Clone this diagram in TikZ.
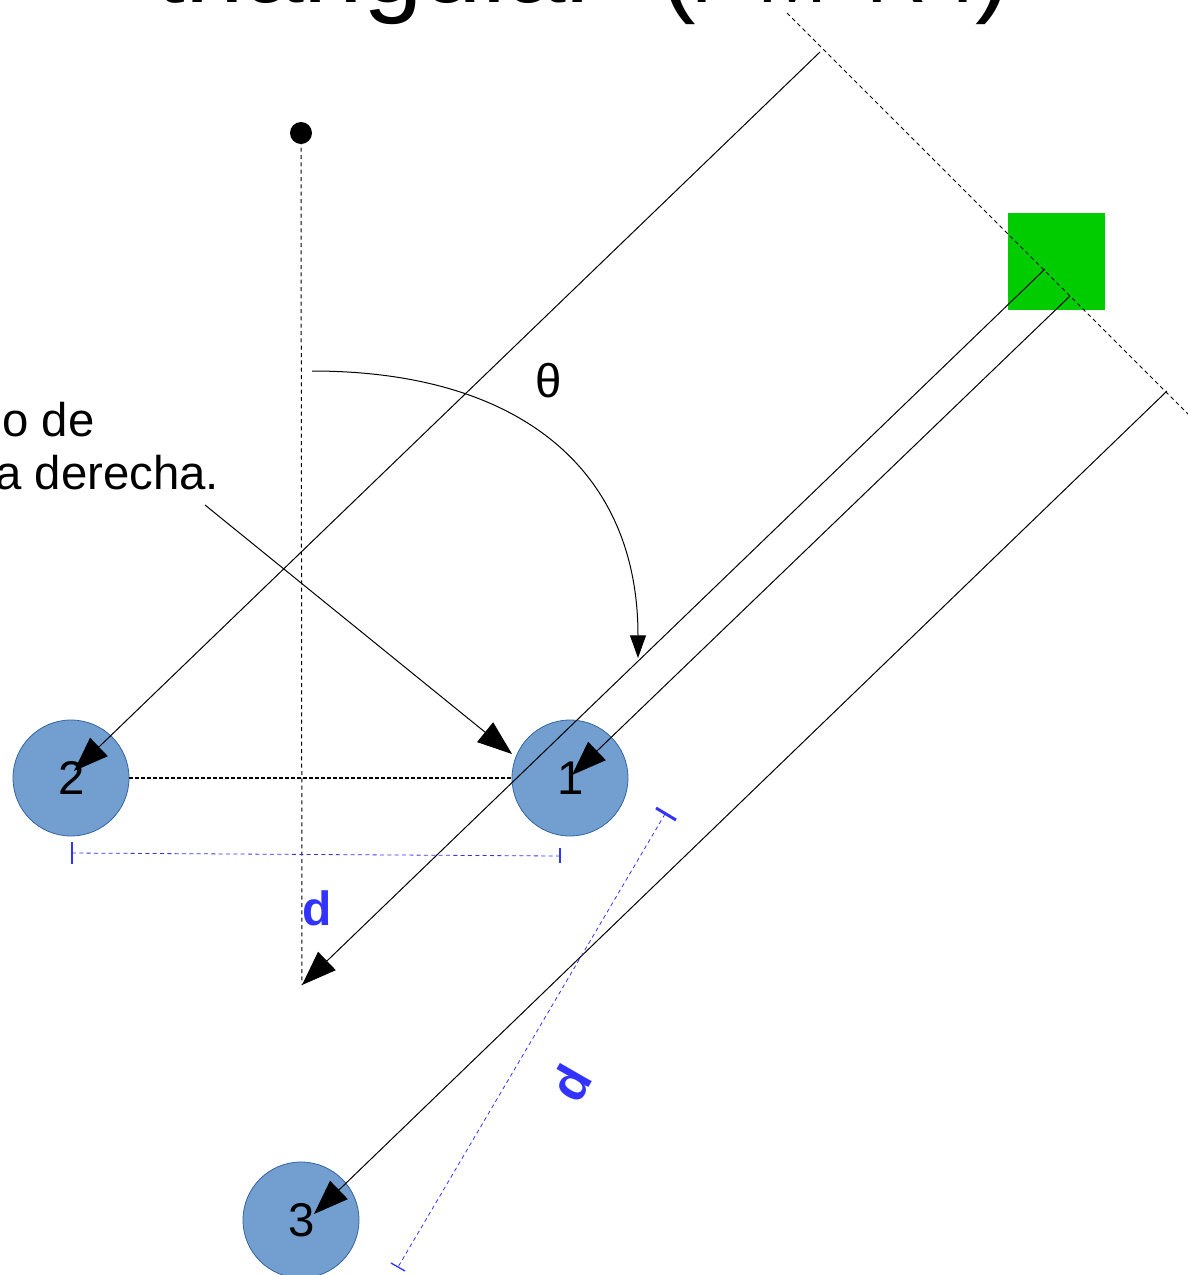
\documentclass[tikz,border=0pt]{standalone}
\usepackage{fontspec}
\setmainfont{Liberation Sans}
\usetikzlibrary{arrows.meta}
\definecolor{ballfill}{HTML}{729FCF}
\definecolor{ballline}{HTML}{3465A4}
\definecolor{dimblue}{HTML}{3333FF}
\definecolor{srcgreen}{HTML}{00CC00}
\tikzset{
  x=0.75pt,y=-0.75pt,
  thinline/.style={draw=black,line width=0.75pt},
  bighead/.style={-{Triangle[length=26pt,width=19pt]}},
  smallhead/.style={-{Triangle[length=17pt,width=12pt]}},
  refdash/.style={draw=black,line width=0.75pt,dash pattern=on 3pt off 2.5pt},
  refdashb/.style={draw=black,line width=1.1pt,dash pattern=on 3pt off 1.5pt},
  dimdash/.style={draw=dimblue,line width=0.6pt,dash pattern=on 3pt off 2.5pt},
  tickthick/.style={draw=dimblue,line width=2.2pt},
  tickthin/.style={draw=dimblue,line width=1pt},
  ball/.style={circle,draw=ballline,fill=ballfill,line width=0.6pt,minimum size=87pt,inner sep=0pt,font=\fontsize{35.5}{35.5}\selectfont},
  lbl/.style={inner sep=0pt,anchor=base west,font=\fontsize{35.5}{35.5}\selectfont},
  dimlbl/.style={inner sep=0pt,text=dimblue,font=\fontsize{36}{36}\selectfont\bfseries},
  dimlblr/.style={inner sep=0pt,text=dimblue,font=\fontsize{38}{38}\selectfont\bfseries},
}
\begin{document}
\begin{tikzpicture}
\useasboundingbox (0,0) rectangle (1188,1275);
% title, cut by the top edge
\node[inner sep=0pt,anchor=base west,font=\fontsize{80.25}{80.25}\selectfont] (title) at (155,2)
  {triangular\kern44.25pt(\kern0pt{\fontsize{63}{63}\selectfont\kern-14.6pt T\kern22.1pt M\kern29.25pt R\kern7.9pt T\kern-10.1pt})};
% source
\node[rectangle,fill=srcgreen,minimum width=72.75pt,minimum height=72.75pt,inner sep=0pt] (src) at (1056.5,261.5) {};
% balls
\node[ball] (b2) at (71,778) {\kern1.2pt 2};
\node[ball] (b1) at (570,778) {\kern1.2pt 1};
\node[ball] (b3) at (301,1220) {\kern1.2pt 3};
% pivot
\node[circle,fill=black,minimum size=16.5pt,inner sep=0pt] (pivot) at (301,133) {};
% coordinates
\coordinate (w0) at (787,13);
\coordinate (w1) at (1190,416);
\coordinate (a0) at (820,52);
\coordinate (a1) at (74,771);
\coordinate (c0) at (1045,269);
\coordinate (c1) at (302,985);
\coordinate (d0) at (1070,296);
\coordinate (d1) at (572,775);
\coordinate (e0) at (1167,391);
\coordinate (e1) at (314,1214);
\coordinate (th0) at (312,371);
\coordinate (th1) at (638,658);
\coordinate (p0) at (205,505);
\coordinate (p1) at (512,754);
% reference lines
\draw[refdash] (w0) -- (w1);
\draw[refdash] (pivot.center) -- (c1);
\draw[refdashb] (b2.east) -- (b1.west);
% rays
\draw[thinline,bighead] (a0) -- (a1);
\draw[thinline,bighead] (c0) -- (c1);
\draw[thinline,bighead] (d0) -- (d1);
\draw[thinline,bighead] (e0) -- (e1);
\draw[thinline,bighead] (p0) -- (p1);
\draw[thinline,smallhead] (th0) .. controls (520,371) and (638,470) .. (th1);
% labels
\node[lbl] (lab1) at (2,436) {o de};
\node[lbl] (lab2) at (-5,489) {a derecha.};
\node[inner sep=0pt,font=\fontsize{35.5}{35.5}\selectfont] (theta) at (549,381) {θ};
% dimensions
\coordinate (h0) at (72,853);
\coordinate (h1) at (560,856);
\draw[dimdash] (h0) -- (h1);
\draw[tickthick] (72,842) -- (72,864);
\draw[tickthin] (560,848) -- (560,863);
\coordinate (g0) at (665,814);
\coordinate (g1) at (398,1267);
\draw[dimdash] (g0) -- (g1);
\draw[tickthick] (656,808) -- (676,820);
\draw[tickthin] (391,1263) -- (405,1271);
\node[dimlbl,anchor=base west] (dh) at (302,925) {d};
\node[dimlblr,rotate=60] (dv) at (571,1083) {d};
\end{tikzpicture}
\end{document}
